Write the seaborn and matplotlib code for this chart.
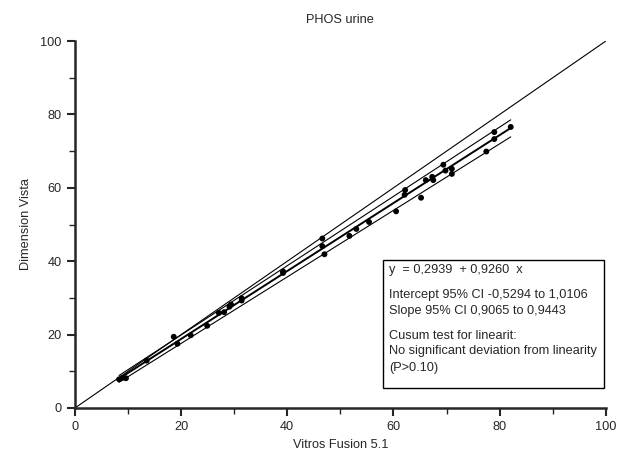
import numpy as np
import pandas as pd
import seaborn as sns
import matplotlib.pyplot as plt
from matplotlib.patches import Rectangle
from matplotlib.ticker import MultipleLocator

# Passing-Bablok comparison, PHOS urine
vitros = [8.3, 8.9, 9.6, 13.5, 18.6, 19.3, 21.8, 24.9, 27.1, 28.1, 29.1, 29.4,
          31.4, 31.4, 39.2, 39.2, 46.6, 46.6, 47.0, 51.7, 53.0, 55.4, 60.5,
          62.2, 62.1, 65.2, 66.1, 67.3, 67.5, 69.4, 69.8, 71.0, 71.0, 77.5,
          79.0, 79.0, 82.1]
vista = [7.8, 8.2, 8.1, 12.9, 19.4, 17.5, 19.8, 22.4, 25.9, 26.1, 27.6, 28.2,
         29.9, 29.3, 36.8, 37.2, 46.2, 44.1, 41.9, 46.9, 48.8, 50.7, 53.6,
         59.4, 58.1, 57.3, 62.1, 63.0, 62.1, 66.3, 64.7, 65.2, 63.8, 69.9,
         75.2, 73.3, 76.6]

intercept, slope = 0.2939, 0.9260
ci_low = (-0.5294, 0.9065)
ci_high = (1.0106, 0.9443)

box_lines = [
    "y  = 0,2939  + 0,9260  x",
    "Intercept 95% CI -0,5294 to 1,0106",
    "Slope 95% CI 0,9065 to 0,9443",
    "Cusum test for linearit:",
    "No significant deviation from linearity",
    "(P>0.10)",
]
# vertical placement of each line inside the box (axes fraction)
box_line_y = [0.377, 0.308, 0.265, 0.197, 0.154, 0.110]

sns.set_style("ticks")
plt.rcParams['font.family'] = ['Liberation Sans', 'DejaVu Sans']

df = pd.DataFrame({'Vitros Fusion 5.1': vitros, 'Dimension Vista': vista})

fig = plt.figure(figsize=(6.2, 4.62), dpi=100)
ax = fig.add_axes([0.121, 0.117, 0.856, 0.794])

# identity line
ax.plot([0, 100], [0, 100], color='black', lw=0.8)

xs = np.array([min(vitros), max(vitros)])
ax.plot(xs, intercept + slope * xs, color='black', lw=1.4)
ax.plot(xs, ci_low[0] + ci_low[1] * xs, color='black', lw=0.8)
ax.plot(xs, ci_high[0] + ci_high[1] * xs, color='black', lw=0.8)

sns.scatterplot(data=df, x='Vitros Fusion 5.1', y='Dimension Vista', ax=ax,
                color='black', s=18, edgecolor='none', zorder=3)

ax.set_xlim(0, 100)
ax.set_ylim(0, 100)
ax.xaxis.set_major_locator(MultipleLocator(20))
ax.xaxis.set_minor_locator(MultipleLocator(10))
ax.yaxis.set_major_locator(MultipleLocator(20))
ax.yaxis.set_minor_locator(MultipleLocator(10))
ax.tick_params(which='major', length=6, width=1.5, labelsize=9.2, direction='out')
ax.tick_params(which='minor', length=4, width=1.0, direction='out')
for side in ['top', 'right']:
    ax.spines[side].set_visible(False)
for side in ['left', 'bottom']:
    ax.spines[side].set_linewidth(1.8)

ax.set_xlabel('Vitros Fusion 5.1', fontsize=9.2)
ax.set_ylabel('Dimension Vista', fontsize=9.2, labelpad=6)
ax.set_title('PHOS urine', fontsize=9.2, pad=13)

ax.add_patch(Rectangle((0.58, 0.054), 0.416, 0.349, transform=ax.transAxes,
                       fill=False, edgecolor='black', lw=1.0, zorder=4))
for line, yy in zip(box_lines, box_line_y):
    ax.text(0.592, yy, line, transform=ax.transAxes,
            fontsize=9.2, va='center', ha='left')

plt.savefig('out.png', dpi=100)
plt.close()
